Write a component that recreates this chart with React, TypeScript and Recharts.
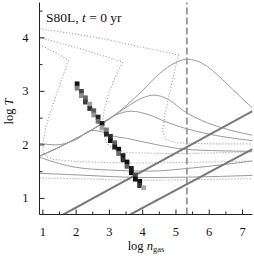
import { ComposedChart, Line, Scatter, XAxis, YAxis, ReferenceLine } from 'recharts';

const SERIF = '"Liberation Serif", "DejaVu Serif", serif';
const FRAME = '#222';
const THIN = '#999';
const THICK = '#7a7a7a';
const DOTTED = '#999';

const X_TICKS = [1, 1.5, 2, 2.5, 3, 3.5, 4, 4.5, 5, 5.5, 6, 6.5, 7];
const Y_TICKS = [1, 1.5, 2, 2.5, 3, 3.5, 4, 4.5];
const DENSITY_THRESHOLD = 5.33;

// equilibrium curves (solid)
const eq1 = [[0.9, 1.79], [1.5, 1.96], [2.0, 2.12], [2.5, 2.29], [3.0, 2.49], [3.5, 2.73], [4.0, 3.02], [4.5, 3.33], [5.0, 3.54], [5.35, 3.6], [5.8, 3.52], [6.4, 3.22], [7.0, 2.86], [7.3, 2.69]];
const eq2 = [[0.9, 1.79], [1.5, 1.96], [2.0, 2.12], [2.5, 2.29], [3.0, 2.48], [3.5, 2.7], [4.0, 2.88], [4.33, 2.93], [4.8, 2.84], [5.22, 2.64], [5.8, 2.45], [6.43, 2.31], [7.0, 2.22], [7.3, 2.18]];
const eq3 = [[0.9, 1.79], [1.5, 1.96], [2.0, 2.12], [2.5, 2.29], [2.8, 2.42], [3.2, 2.56], [3.65, 2.63], [4.2, 2.56], [4.7, 2.43], [5.22, 2.32], [6.0, 2.2], [7.3, 2.08]];
const eq4 = [[0.9, 2.03], [1.4, 2.0], [2.0, 2.1], [2.47, 2.27], [2.8, 2.24], [3.03, 2.18], [3.54, 2.12], [4.53, 1.99], [5.25, 1.92], [6.3, 1.89], [7.3, 1.88]];
const eq5 = [[0.9, 1.77], [1.5, 1.65], [2.0, 1.58], [3.0, 1.53], [4.17, 1.51], [5.5, 1.57], [7.3, 1.7]];
const eq6 = [[0.9, 1.47], [2.0, 1.44], [3.0, 1.41], [4.17, 1.39], [5.5, 1.4], [7.3, 1.43]];

// constant Jeans-mass lines (thick)
const jeans1 = [[1.62, 0.7], [7.3, 2.63]];
const jeans2 = [[3.63, 0.7], [7.3, 1.92]];

// cooling tracks (dotted)
const trackA = [[0.9, 4.17], [2.0, 4.07], [3.0, 3.96], [3.63, 3.87], [4.5, 3.76], [5.07, 3.68], [4.95, 3.35], [4.8, 2.95], [4.68, 2.6], [4.6, 2.26], [4.7, 2.1], [5.0, 2.04], [6.0, 2.02], [7.3, 2.02]];
const trackB = [[0.9, 4.01], [2.0, 3.82], [3.0, 3.63], [3.4, 3.55], [3.2, 3.3], [3.0, 3.0], [2.86, 2.7], [2.8, 2.45], [2.82, 2.27], [2.9, 2.05], [3.1, 1.92], [3.43, 1.86], [4.5, 1.84], [5.5, 1.84], [7.3, 1.87]];
const trackC = [[0.9, 3.87], [1.4, 3.72], [1.77, 3.58], [1.55, 3.2], [1.3, 2.75], [1.1, 2.35], [1.0, 2.0], [1.02, 1.85], [1.15, 1.77], [1.3, 1.73], [2.0, 1.69], [3.0, 1.67], [4.0, 1.66], [5.0, 1.67], [6.0, 1.68], [7.3, 1.7]];
const trackD = [[0.9, 1.38], [2.0, 1.37], [3.0, 1.35], [4.17, 1.34], [5.5, 1.35], [7.3, 1.37]];

// particle distribution cells: [log n, log T, relative density]
const cells = [
  [2.03, 3.14, 0.95], [2.03, 3.06, 0.45],
  [2.16, 3.0, 0.7], [2.16, 2.92, 0.4],
  [2.28, 2.88, 0.55], [2.28, 2.8, 0.75],
  [2.41, 2.76, 0.3], [2.41, 2.68, 0.8],
  [2.53, 2.64, 0.6], [2.53, 2.56, 0.35],
  [2.66, 2.52, 0.85], [2.66, 2.44, 0.5],
  [2.78, 2.4, 0.9], [2.78, 2.32, 0.3],
  [2.91, 2.28, 0.45], [2.91, 2.2, 0.85],
  [3.03, 2.16, 0.8], [3.03, 2.08, 0.95],
  [3.16, 2.04, 0.6], [3.16, 1.96, 0.9],
  [3.28, 1.92, 0.95], [3.28, 1.84, 0.55],
  [3.41, 1.8, 0.9], [3.41, 1.72, 0.8],
  [3.53, 1.68, 0.95], [3.53, 1.6, 0.6],
  [3.66, 1.56, 0.9], [3.66, 1.48, 0.95],
  [3.78, 1.44, 0.7], [3.78, 1.36, 0.95],
  [3.91, 1.32, 0.95], [3.91, 1.24, 0.8],
  [4.03, 1.2, 0.25],
];

const pts = (arr: number[][]) => arr.map(([x, y]) => ({ x, y }));
const cellData = cells.map(([x, y, v]) => ({ x, y, v }));

const gray = (v: number) => {
  const c = Math.round(225 - v * 220);
  return `rgb(${c},${c},${c})`;
};

const CellShape = (p: any) => (
  <rect x={p.cx - 2.4} y={p.cy - 2.4} width={4.8} height={4.8} fill={gray(p.payload.v)} />
);

const isMajor = (v: number) => Number.isInteger(v);

const BottomTick = ({ x, y, payload }: any) => (
  <g>
    <line x1={x} x2={x} y1={y} y2={y - (isMajor(payload.value) ? 5 : 3)} stroke={FRAME} />
    {isMajor(payload.value) && (
      <text x={x} y={y + 21} textAnchor="middle" fontFamily={SERIF} fontSize={12.5} fill="#111">
        {payload.value}
      </text>
    )}
  </g>
);

const TopTick = ({ x, y, payload }: any) => (
  <line x1={x} x2={x} y1={y} y2={y + (isMajor(payload.value) ? 5 : 3)} stroke={FRAME} />
);

const LeftTick = ({ x, y, payload }: any) => (
  <g>
    <line x1={x} x2={x + (isMajor(payload.value) ? 5 : 3)} y1={y} y2={y} stroke={FRAME} />
    {isMajor(payload.value) && (
      <text x={x - 11} y={y + 4} textAnchor="end" fontFamily={SERIF} fontSize={12.5} fill="#111">
        {payload.value}
      </text>
    )}
  </g>
);

const RightTick = ({ x, y, payload }: any) => (
  <line x1={x} x2={x - (isMajor(payload.value) ? 5 : 3)} y1={y} y2={y} stroke={FRAME} />
);

const XLabel = ({ viewBox }: any) => (
  <text x={viewBox.x + viewBox.width / 2} y={viewBox.y + 35} textAnchor="middle" fontFamily={SERIF} fontSize={12.5} fill="#111">
    log <tspan fontStyle="italic">n</tspan>
    <tspan fontSize={8.5} dy={2.5}>gas</tspan>
  </text>
);

// y-axis title plus the panel title in the upper-left corner of the plot
const YLabel = ({ viewBox }: any) => {
  const cx = 13;
  const cy = viewBox.y + 109;
  const left = viewBox.x + viewBox.width;
  return (
    <g>
      <text x={cx} y={cy} transform={`rotate(-90, ${cx}, ${cy})`} textAnchor="middle" fontFamily={SERIF} fontSize={12.5} fill="#111">
        log <tspan fontStyle="italic">T</tspan>
      </text>
      <text x={left + 6.5} y={viewBox.y + 19.5} fontFamily={SERIF} fontSize={13.5} fill="#111">
        S80L, <tspan fontStyle="italic">t</tspan> = 0 yr
      </text>
    </g>
  );
};

const solid = [eq1, eq2, eq3, eq4, eq5, eq6];
const thick = [jeans1, jeans2];
const dotted = [trackA, trackB, trackC, trackD];

export default function App() {
  return (
    <div style={{ position: 'absolute', left: 0, top: 0 }}>
      <ComposedChart width={254} height={258} margin={{ top: 2.5, right: 1.5, bottom: 0, left: 0 }}>
        <XAxis
          dataKey="x"
          type="number"
          domain={[0.9, 7.3]}
          allowDataOverflow
          ticks={X_TICKS}
          interval={0}
          height={43.5}
          tickSize={0}
          tickMargin={0}
          tickLine={false}
          axisLine={{ stroke: FRAME }}
          tick={BottomTick}
          label={{ content: XLabel }}
        />
        <XAxis
          xAxisId="top"
          orientation="top"
          type="number"
          domain={[0.9, 7.3]}
          allowDataOverflow
          ticks={X_TICKS}
          interval={0}
          height={0}
          tickSize={0}
          tickMargin={0}
          tickLine={false}
          axisLine={{ stroke: FRAME }}
          tick={TopTick}
        />
        <YAxis
          type="number"
          domain={[0.7, 4.66]}
          allowDataOverflow
          ticks={Y_TICKS}
          interval={0}
          width={39.5}
          tickSize={0}
          tickMargin={0}
          tickLine={false}
          axisLine={{ stroke: FRAME }}
          tick={LeftTick}
          label={{ content: YLabel }}
        />
        <YAxis
          yAxisId="right"
          orientation="right"
          type="number"
          domain={[0.7, 4.66]}
          allowDataOverflow
          ticks={Y_TICKS}
          interval={0}
          width={0}
          tickSize={0}
          tickMargin={0}
          tickLine={false}
          axisLine={{ stroke: FRAME }}
          tick={RightTick}
        />
        <ReferenceLine x={DENSITY_THRESHOLD} stroke="#444" strokeDasharray="7 3" />
        {dotted.map((d, i) => (
          <Line key={`d${i}`} data={pts(d)} dataKey="y" type="linear" stroke={DOTTED} strokeWidth={1.1} strokeDasharray="1 2" dot={false} isAnimationActive={false} />
        ))}
        {solid.map((d, i) => (
          <Line key={`s${i}`} data={pts(d)} dataKey="y" type="monotone" stroke={THIN} strokeWidth={1} dot={false} isAnimationActive={false} />
        ))}
        {thick.map((d, i) => (
          <Line key={`t${i}`} data={pts(d)} dataKey="y" type="linear" stroke={THICK} strokeWidth={2} dot={false} isAnimationActive={false} />
        ))}
        <Scatter data={cellData} dataKey="y" shape={CellShape} isAnimationActive={false} />
      </ComposedChart>
    </div>
  );
}
